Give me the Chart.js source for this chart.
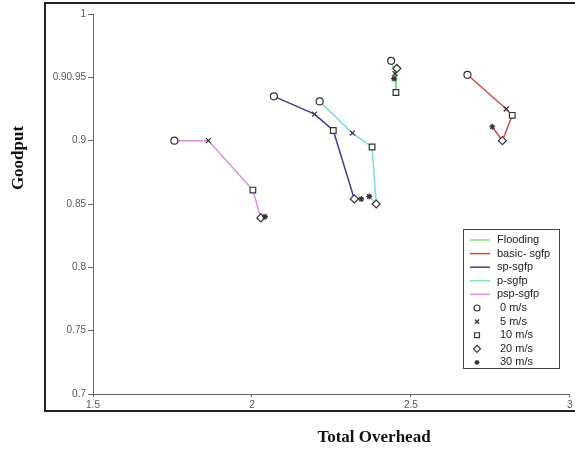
<!DOCTYPE html>
<html>
<head>
<meta charset="utf-8">
<script src="https://cdn.jsdelivr.net/npm/chart.js"></script>
<style>
  html, body { margin: 0; padding: 0; background: #fff; }
  #wrap { width: 575px; height: 452px; }
</style>
</head>
<body>
<div id="wrap"><canvas id="goodputChart" width="575" height="452"></canvas></div>
<script>
// speeds, in the order every series lists its points
const speedLabels = ['0 m/s', '5 m/s', '10 m/s', '20 m/s', '30 m/s'];
const markerStyles = ['circle', 'crossRot', 'rect', 'rectRot', 'star'];

const seriesNames = ['Flooding', 'basic- sgfp', 'sp-sgfp', 'p-sgfp', 'psp-sgfp'];
const seriesColors = ['#7ddf7d', '#cf4b4b', '#463a92', '#7fdcd4', '#dc8fdf'];

const floodingX = [2.438, 2.450, 2.453, 2.456, 2.447];
const floodingY = [0.963, 0.953, 0.938, 0.957, 0.949];
const basicX = [2.678, 2.800, 2.819, 2.788, 2.756];
const basicY = [0.952, 0.925, 0.920, 0.900, 0.911];
const spX = [2.069, 2.197, 2.256, 2.322, 2.344];
const spY = [0.935, 0.921, 0.908, 0.854, 0.854];
const pX = [2.213, 2.316, 2.378, 2.391, 2.369];
const pY = [0.931, 0.906, 0.895, 0.850, 0.856];
const pspX = [1.756, 1.863, 2.003, 2.028, 2.041];
const pspY = [0.900, 0.900, 0.861, 0.839, 0.840];

const xTicks = [1.5, 2, 2.5, 3];
const xTickLabels = ['1.5', '2', '2.5', '3'];
const yTicks = [0.7, 0.75, 0.8, 0.85, 0.9, 0.95, 1];
const yTickLabels = ['0.7', '0.75', '0.8', '0.85', '0.9', '0.90.95', '1'];

const seriesX = [floodingX, basicX, spX, pX, pspX];
const seriesY = [floodingY, basicY, spY, pY, pspY];

const markerRadius = [3.5, 3.5, 4, 4, 3];

const datasets = seriesNames.map((name, i) => ({
  label: name,
  data: seriesX[i].map((x, j) => ({ x: x, y: seriesY[i][j] })),
  showLine: true,
  borderColor: seriesColors[i],
  borderWidth: 1.5,
  pointStyle: markerStyles,
  pointRadius: markerRadius,
  pointBorderColor: '#333',
  pointBackgroundColor: '#fff',
  pointBorderWidth: 1.2
}));

// frame, axis titles and the boxed legend
const decorPlugin = {
  id: 'decor',
  afterDraw(chart) {
    const ctx = chart.ctx;
    ctx.save();

    // outer frame
    ctx.strokeStyle = '#222';
    ctx.lineWidth = 2;
    ctx.beginPath();
    ctx.moveTo(577, 3);
    ctx.lineTo(45, 3);
    ctx.lineTo(45, 411);
    ctx.lineTo(577, 411);
    ctx.stroke();

    // titles
    ctx.fillStyle = '#111';
    ctx.font = 'bold 17px "Liberation Serif", "DejaVu Serif", serif';
    ctx.textAlign = 'center';
    ctx.textBaseline = 'middle';
    ctx.fillText('Total Overhead', 374, 438);
    ctx.save();
    ctx.translate(19, 158);
    ctx.rotate(-Math.PI / 2);
    ctx.fillText('Goodput', 0, 0);
    ctx.restore();

    // legend
    const lx = 463, ly = 229, lw = 96, lh = 139;
    ctx.fillStyle = '#fff';
    ctx.fillRect(lx, ly, lw, lh);
    ctx.strokeStyle = '#444';
    ctx.lineWidth = 1;
    ctx.strokeRect(lx + 0.5, ly + 0.5, lw, lh);

    ctx.font = '11px "Liberation Sans", Arial, sans-serif';
    ctx.textAlign = 'left';
    ctx.textBaseline = 'middle';
    const step = 13.6;
    let y = ly + 11;
    seriesNames.forEach((name, i) => {
      ctx.strokeStyle = seriesColors[i];
      ctx.lineWidth = 1.5;
      ctx.beginPath();
      ctx.moveTo(lx + 7, y);
      ctx.lineTo(lx + 27, y);
      ctx.stroke();
      ctx.fillStyle = '#222';
      ctx.fillText(name, lx + 34, y);
      y += step;
    });
    speedLabels.forEach((name, i) => {
      ctx.fillStyle = '#fff';
      ctx.strokeStyle = '#333';
      ctx.lineWidth = 1.2;
      Chart.helpers.drawPoint(ctx, {
        pointStyle: markerStyles[i],
        radius: markerRadius[i] - 0.5,
        borderWidth: 1.2,
        rotation: 0
      }, lx + 14, y);
      ctx.fillStyle = '#222';
      ctx.fillText(name, lx + 37, y);
      y += step;
    });

    ctx.restore();
  }
};

new Chart(document.getElementById('goodputChart'), {
  type: 'scatter',
  data: { datasets: datasets },
  options: {
    responsive: false,
    devicePixelRatio: 1,
    animation: false,
    layout: { padding: { left: 0, right: 2, top: 14, bottom: 0 } },
    plugins: {
      legend: { display: false },
      tooltip: { enabled: false }
    },
    scales: {
      x: {
        type: 'linear',
        min: 1.5,
        max: 3,
        afterBuildTicks: (scale) => { scale.ticks = xTicks.map(v => ({ value: v })); },
        afterFit: (scale) => { scale.height = 58; },
        border: { display: true, color: '#666', width: 1 },
        grid: { drawOnChartArea: false, drawTicks: true, tickLength: 3, color: '#666' },
        ticks: {
          padding: 2,
          color: '#555',
          font: { family: '"Liberation Sans", Arial, sans-serif', size: 10 },
          callback: (v, i) => xTickLabels[i]
        }
      },
      y: {
        type: 'linear',
        min: 0.7,
        max: 1,
        afterBuildTicks: (scale) => { scale.ticks = yTicks.map(v => ({ value: v })); },
        afterFit: (scale) => { scale.width = 93; },
        border: { display: true, color: '#666', width: 1 },
        grid: { drawOnChartArea: false, drawTicks: true, tickLength: 5, color: '#666' },
        ticks: {
          padding: 2,
          color: '#555',
          font: { family: '"Liberation Sans", Arial, sans-serif', size: 10 },
          callback: (v, i) => yTickLabels[i]
        }
      }
    }
  },
  plugins: [decorPlugin]
});
</script>
</body>
</html>
